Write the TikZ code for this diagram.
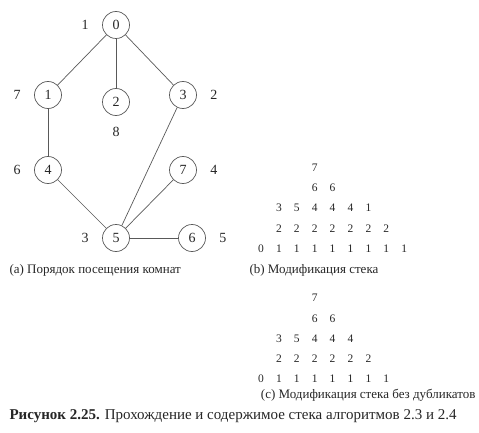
\documentclass[tikz,border=0pt]{standalone}
\usepackage{fontspec}
\setmainfont{Liberation Serif}
\usetikzlibrary{positioning}

\begin{document}
\begin{tikzpicture}[
    x=1pt, y=-1pt,
    node distance=10pt,
    room/.style={circle, draw=black!65, line width=0.7pt, minimum size=27pt, inner sep=0pt, text=black!85, font=\fontsize{14}{14}\selectfont},
    order/.style={text=black!85, font=\fontsize{14}{14}\selectfont},
    cell/.style={text=black!85, font=\fontsize{11.5}{11.5}\selectfont},
    caption/.style={anchor=west, text=black!85, font=\fontsize{13}{13}\selectfont},
]
    \useasboundingbox (0,0) rectangle (479,433);

    % --- 參數 ---
    \def\colw{17.9}  % 欄寬
    \def\rowh{20.2}  % 列高
    \def\xs{261}     % 第 0 欄
    \def\yb{248.5}   % (b) 最下列
    \def\yc{379}     % (c) 最下列

    % --- (a) 房間 ---
    \node[room] (r0) at (116,25) {0};
    \node[room] (r1) at (48,95) {1};
    \node[room] (r2) at (116,102) {2};
    \node[room] (r3) at (183,95) {3};
    \node[room] (r4) at (48,170) {4};
    \node[room] (r7) at (183,170) {7};
    \node[room] (r5) at (116,238) {5};
    \node[room] (r6) at (192,238) {6};

    % 通道
    \draw[black!65, line width=0.7pt] (r0) -- (r1);
    \draw[black!65, line width=0.7pt] (r0) -- (r2);
    \draw[black!65, line width=0.7pt] (r0) -- (r3);
    \draw[black!65, line width=0.7pt] (r1) -- (r4);
    \draw[black!65, line width=0.7pt] (r4) -- (r5);
    \draw[black!65, line width=0.7pt] (r3) -- (r5);
    \draw[black!65, line width=0.7pt] (r7) -- (r5);
    \draw[black!65, line width=0.7pt] (r5) -- (r6);

    % 訪問順序
    \node[order, left=of r0] (o0) {1};
    \node[order, left=of r1] (o1) {7};
    \node[order, below=8pt of r2] (o2) {8};
    \node[order, right=of r3] (o3) {2};
    \node[order, left=of r4] (o4) {6};
    \node[order, right=of r7] (o7) {4};
    \node[order, left=of r5] (o5) {3};
    \node[order, right=of r6] (o6) {5};

    \node[caption] (capa) at (6,270) {(a) Порядок посещения комнат};

    % --- (b) 堆疊 ---
    \foreach \row/\start/\vals in {0/0/{0,1,1,1,1,1,1,1,1}, 1/1/{2,2,2,2,2,2,2}, 2/1/{3,5,4,4,4,1}, 3/3/{6,6}, 4/3/{7}} {
        \foreach \v [count=\i from \start] in \vals
            \node[cell] (b-\row-\i) at ({\xs+\colw*\i}, {\yb-\rowh*\row}) {\v};
    }
    \node[caption] (capb) at (246,270) {(b) Модификация стека};

    % --- (c) 無重複 ---
    \foreach \row/\start/\vals in {0/0/{0,1,1,1,1,1,1,1}, 1/1/{2,2,2,2,2,2}, 2/1/{3,5,4,4,4}, 3/3/{6,6}, 4/3/{7}} {
        \foreach \v [count=\i from \start] in \vals
            \node[cell] (c-\row-\i) at ({\xs+\colw*\i}, {\yc-\rowh*\row}) {\v};
    }
    \node[caption, anchor=east] (capc) at (479,395) {(c) Модификация стека без дубликатов};

    % --- 圖說 ---
    \node[caption, font=\fontsize{15}{15}\selectfont] (fig) at (6,416) {\textbf{Рисунок 2.25.} Прохождение и содержимое стека алгоритмов 2.3 и 2.4};

\end{tikzpicture}
\end{document}
